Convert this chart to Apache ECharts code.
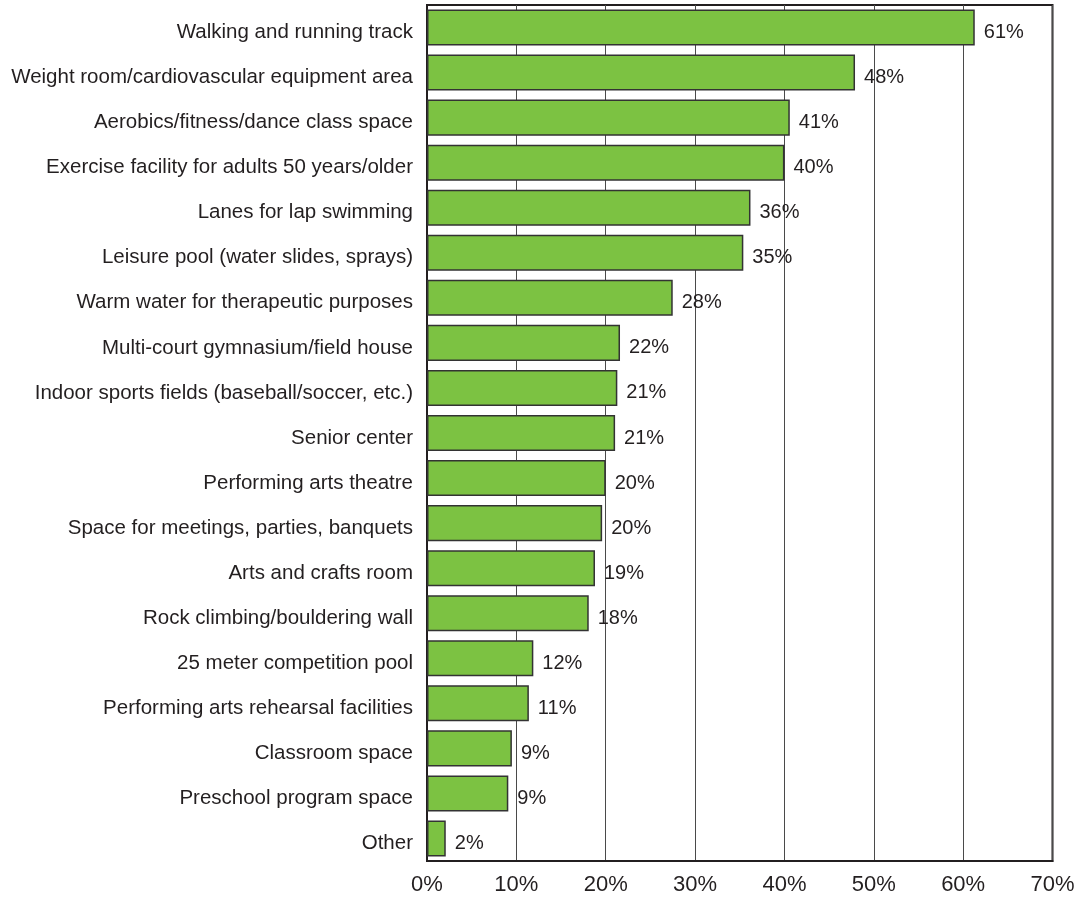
<!DOCTYPE html>
<html>
<head>
<meta charset="utf-8">
<script src="https://cdn.jsdelivr.net/npm/echarts@6/dist/echarts.min.js"></script>
<style>
html,body{margin:0;padding:0;background:#fff;}
#chart{width:1081px;height:899px;}
</style>
</head>
<body>
<div id="chart"></div>
<script>
const categories = [
  "Walking and running track",
  "Weight room/cardiovascular equipment area",
  "Aerobics/fitness/dance class space",
  "Exercise facility for adults 50 years/older",
  "Lanes for lap swimming",
  "Leisure pool (water slides, sprays)",
  "Warm water for therapeutic purposes",
  "Multi-court gymnasium/field house",
  "Indoor sports fields (baseball/soccer, etc.)",
  "Senior center",
  "Performing arts theatre",
  "Space for meetings, parties, banquets",
  "Arts and crafts room",
  "Rock climbing/bouldering wall",
  "25 meter competition pool",
  "Performing arts rehearsal facilities",
  "Classroom space",
  "Preschool program space",
  "Other"
];
const values = [61.3, 47.9, 40.6, 40.0, 36.2, 35.4, 27.5, 21.6, 21.3, 21.05, 20.0, 19.6, 18.8, 18.1, 11.9, 11.4, 9.5, 9.1, 2.1];
const valueLabels = ["61%","48%","41%","40%","36%","35%","28%","22%","21%","21%","20%","20%","19%","18%","12%","11%","9%","9%","2%"];
const xTicks = [0, 10, 20, 30, 40, 50, 60, 70];

const chart = echarts.init(document.getElementById('chart'));
chart.setOption({
  animation: false,
  backgroundColor: '#ffffff',
  grid: {
    left: 427, top: 5, right: 28.5, bottom: 38,
    show: true, borderColor: '#231f20', borderWidth: 2, backgroundColor: 'transparent'
  },
  xAxis: {
    type: 'value',
    min: xTicks[0], max: xTicks[xTicks.length - 1], interval: 10,
    axisLine: { show: true, lineStyle: { color: '#231f20', width: 2 } },
    axisTick: { show: false },
    axisLabel: {
      formatter: '{value}%', color: '#231f20', fontSize: 22,
      fontFamily: 'Liberation Sans, Arial, sans-serif', margin: 13
    },
    splitLine: { show: true, lineStyle: { color: '#4a4a4a', width: 1 } }
  },
  yAxis: {
    type: 'category',
    data: categories,
    inverse: true,
    axisLine: { show: true, lineStyle: { color: '#231f20', width: 2 } },
    axisTick: { show: false },
    axisLabel: {
      color: '#231f20', fontSize: 20.5,
      fontFamily: 'Liberation Sans, Arial, sans-serif', margin: 14,
      verticalAlign: 'top', lineHeight: 10
    },
    splitLine: { show: false }
  },
  series: [{
    type: 'bar',
    data: values,
    barCategoryGap: '20%',
    itemStyle: { color: '#7cc242', borderColor: '#333333', borderWidth: 1.5 },
    label: {
      show: true, position: 'right', distance: 9,
      color: '#231f20', fontSize: 20,
      fontFamily: 'Liberation Sans, Arial, sans-serif',
      verticalAlign: 'top', lineHeight: 10,
      formatter: p => valueLabels[p.dataIndex]
    },
    z: 3
  }]
});
</script>
</body>
</html>
